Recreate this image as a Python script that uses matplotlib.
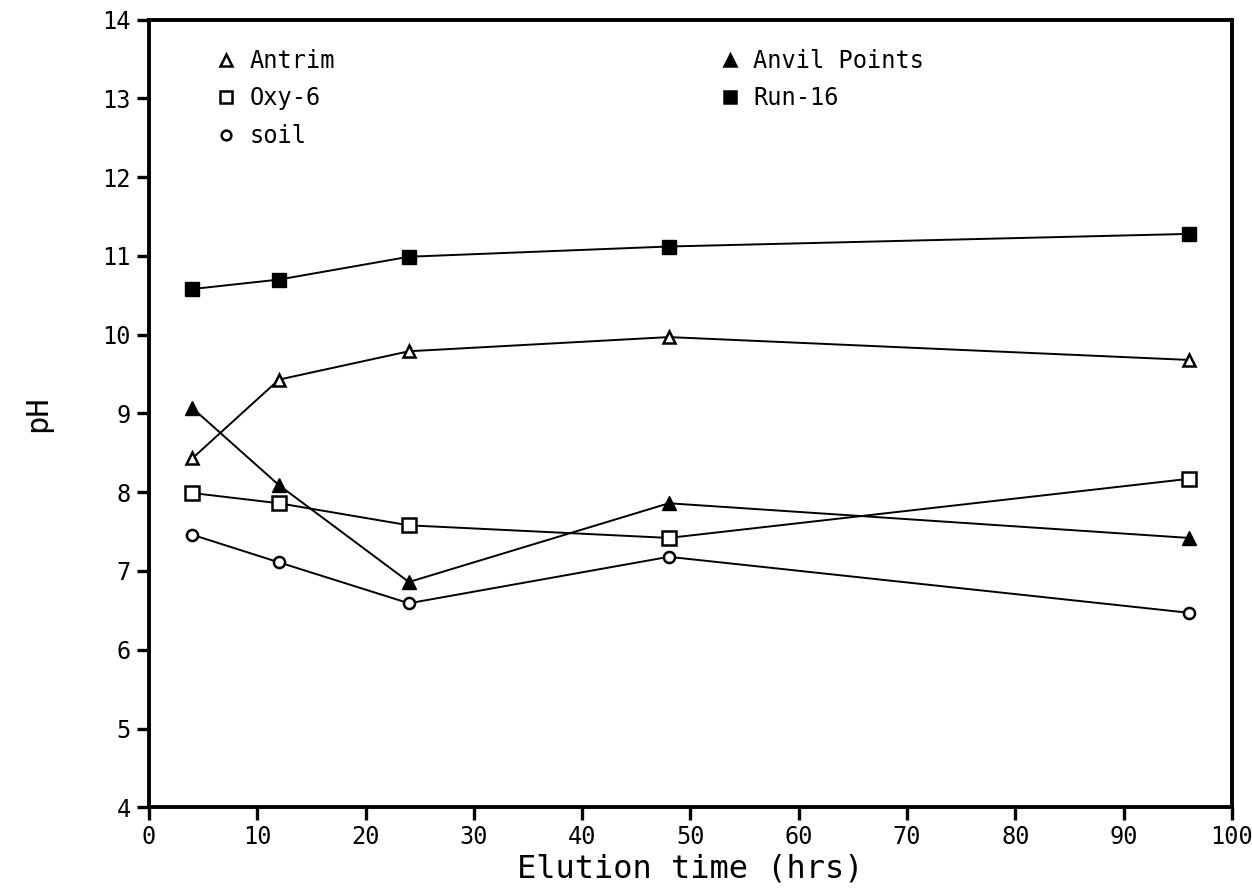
import matplotlib
matplotlib.use("Agg")
import matplotlib.pyplot as plt
from matplotlib.lines import Line2D

# elution times (hrs) and pH
hours = [4, 12, 24, 48, 96]
antrim = [8.43, 9.43, 9.79, 9.97, 9.68]
anvil_points = [9.07, 8.09, 6.86, 7.86, 7.42]
oxy6 = [7.99, 7.86, 7.58, 7.42, 8.17]
run16 = [10.58, 10.70, 10.99, 11.12, 11.28]
soil = [7.46, 7.11, 6.59, 7.18, 6.47]

plt.rcParams["font.family"] = ["DejaVu Sans Mono"]

fig = plt.figure(figsize=(12.52, 8.94), dpi=100)
ax = fig.add_axes([0.119, 0.097, 0.865, 0.881])

lw = 1.4
ax.plot(hours, antrim, color="black", lw=lw, marker="^", ms=8, mfc="white", mec="black", mew=1.8)
ax.plot(hours, anvil_points, color="black", lw=lw, marker="^", ms=10, mfc="black", mec="black")
ax.plot(hours, oxy6, color="black", lw=lw, marker="s", ms=10, mfc="white", mec="black", mew=1.8)
ax.plot(hours, run16, color="black", lw=lw, marker="s", ms=10, mfc="black", mec="black")
ax.plot(hours, soil, color="black", lw=lw, marker="o", ms=8, mfc="white", mec="black", mew=1.8)

ax.set_xlim(0, 100)
ax.set_ylim(4, 14)
ax.set_xticks(range(0, 101, 10))
ax.set_yticks(range(4, 15))
for s in ax.spines.values():
    s.set_linewidth(2.8)
ax.tick_params(axis="both", direction="out", length=9, width=2.4, labelsize=17, pad=4)

ax.set_xlabel("Elution time (hrs)", fontsize=23, labelpad=3)
ax.set_ylabel("pH", fontsize=22, labelpad=36)

# legend: two groups placed by hand like the original
def handle(marker, filled, ms):
    return Line2D([], [], ls="none", marker=marker, ms=ms, color="black",
                  mfc="black" if filled else "white", mec="black", mew=1.8)

leg1 = ax.legend([handle("^", False, 8), handle("s", False, 8), handle("o", False, 7)],
                 ["Antrim", "Oxy-6", "soil"], loc="upper left",
                 bbox_to_anchor=(0.043, 0.99), frameon=False, fontsize=17,
                 handlelength=0.8, handletextpad=0.6, labelspacing=0.58)
ax.add_artist(leg1)
ax.legend([handle("^", True, 9), handle("s", True, 8)],
          ["Anvil Points", "Run-16"], loc="upper left",
          bbox_to_anchor=(0.508, 0.99), frameon=False, fontsize=17,
          handlelength=0.8, handletextpad=0.6, labelspacing=0.58)

fig.savefig("out.png", dpi=100)
